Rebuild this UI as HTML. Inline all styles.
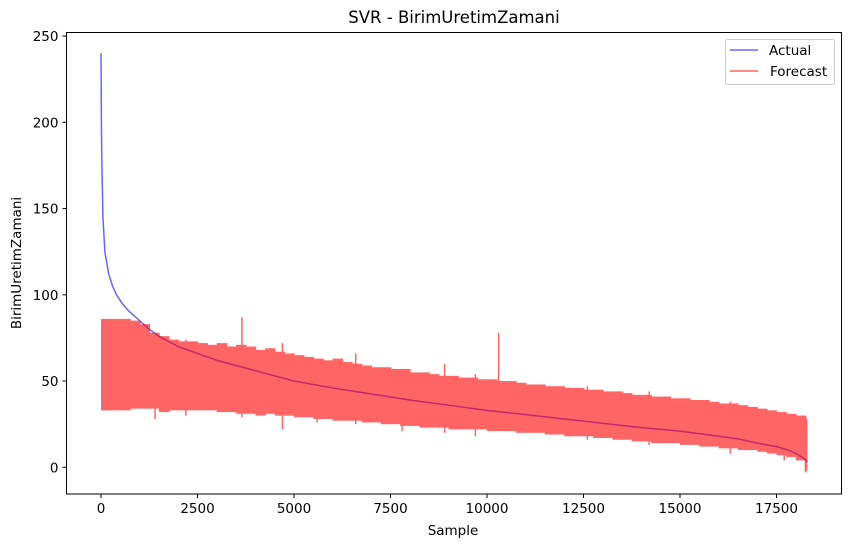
<!DOCTYPE html>
<html><head><meta charset="utf-8"><style>
body{margin:0;background:#fff;}
svg{font-family:"DejaVu Sans","Liberation Sans",sans-serif;}
</style></head><body>
<svg id="chart" width="850" height="547" viewBox="0 0 850 547">
<rect width="850" height="547" fill="#fff"/>
<text x="454" y="23" text-anchor="middle" font-size="16.5">SVR - BirimUretimZamani</text>
<g id="plot"></g>
<g id="axes"></g>
<text x="453" y="535" text-anchor="middle" font-size="13.5">Sample</text>
<text transform="translate(21,263) rotate(-90)" text-anchor="middle" font-size="13.5">BirimUretimZamani</text>
<g>
<rect x="725.5" y="39.5" width="109" height="45" rx="2" fill="#fff" fill-opacity="0.8" stroke="#ccc"/>
<line x1="730" y1="50" x2="758" y2="50" stroke="#6666ff" stroke-width="1.5"/>
<text x="769" y="55" font-size="13.5">Actual</text>
<line x1="730" y1="71" x2="758" y2="71" stroke="#ff6666" stroke-width="1.5"/>
<text x="770" y="76" font-size="13.5">Forecast</text>
</g>
</svg>
<script>
const actualSamples=[0,10,20,50,100,200,300,400,550,700,850,1000,1250,1500,1750,2000,2250,2500,3000,3500,4000,4500,5000,6000,7000,8000,9000,10000,11000,12000,13000,14000,15000,16000,16500,17000,17500,17800,18000,18150,18250,18300];
const actualValues=[240,200,180,145,125,112,105,100,95,91,88,85,80,76,73,70,68,66,62,59,56,53,50,46,42.5,39,36,33,30.5,28,25.5,23,21,18,16.5,14,12,10,8,6,4.5,3];
const binStart=0, binStep=250;
const forecastUpper=[86,86,86,85,83,78,76,74,73,73,72,71,72,70,71,70,68,69,67,66,65,64,63,62,63,61,60,59,58,58,57,57,55,55,54,53,53,52,52,51,51,50,50,49,48,48,47,47,46,46,45,45,44,44,43,42,42,41,41,40,40,39,39,38,37,37,36,35,34,33,32,31,30,28];
const forecastLower=[33,33,33,34,34,34,32,33,33,33,33,33,32,32,31,31,30,31,30,30,29,29,28,28,27,27,27,26,26,25,25,24,24,23,23,23,22,22,22,22,21,21,21,20,20,20,19,19,18,18,18,17,17,16,16,15,15,14,14,14,13,13,12,12,11,11,10,10,9,8,7,6,4,-2];
const spikeSamples=[30,1050,1400,3650,4700,6600,10300,8900,9700,2200,5600,7800,12600,14200,16300,17700,18250];
const spikeHigh=[80,82,75,87,72,66,78,60,54,74,62,57,47,44,38,31,30];
const spikeLow=[42,40,28,29,22,25,31,20,18,30,26,21,16,13,8,4,-3];
const xTicks=[0,2500,5000,7500,10000,12500,15000,17500];
const yTicks=[0,50,100,150,200,250];
const NS="http://www.w3.org/2000/svg";
const L=66.5,R=841.5,T=32.5,B=494;
const xs=v=>101+v*(96.5/2500);
const ys=v=>467.3-v*(431.3/250);
function mk(tag,attrs,parent){const e=document.createElementNS(NS,tag);for(const k in attrs)e.setAttribute(k,attrs[k]);parent.appendChild(e);return e;}
const plot=document.getElementById('plot'),axes=document.getElementById('axes');
let d=actualSamples.map((s,i)=>(i?'L':'M')+xs(s).toFixed(2)+','+ys(actualValues[i]).toFixed(2)).join('');
const al=mk('path',{d:d,fill:'none',stroke:'#0000ff','stroke-opacity':0.6,'stroke-width':1.5,'stroke-linejoin':'round'},plot);


const fg=mk('g',{opacity:0.6},plot);


const n=Math.min(forecastUpper.length,forecastLower.length);
const xEnd=xs(18300);
for(let i=0;i<n;i++){
  const x0=xs(binStart+i*binStep), x1=Math.min(xs(binStart+(i+1)*binStep)+0.8,xEnd);
  const r=mk('rect',{x:x0,y:ys(forecastUpper[i]),width:Math.max(0.8,x1-x0),height:ys(forecastLower[i])-ys(forecastUpper[i]),fill:'#ff0000'},fg);
  
  
}
for(let i=0;i<spikeSamples.length;i++){
  const l=mk('line',{x1:xs(spikeSamples[i]),x2:xs(spikeSamples[i]),y1:ys(spikeHigh[i]),y2:ys(spikeLow[i]),stroke:'#ff0000','stroke-width':1.5},fg);
  
  
}
const fr=mk('rect',{x:L,y:T,width:R-L,height:B-T,fill:'none',stroke:'#000','stroke-width':1},axes);


xTicks.forEach(t=>{
  const x=xs(t);
  const tk=mk('line',{x1:x,x2:x,y1:B,y2:B+4,stroke:'#000'},axes);
  
  
  const tx=mk('text',{x:x,y:B+19,'text-anchor':'middle','font-size':13.5},axes);
  tx.textContent=t;
  
  
});
yTicks.forEach(t=>{
  const y=ys(t);
  const tk=mk('line',{x1:L-4,x2:L,y1:y,y2:y,stroke:'#000'},axes);
  
  
  const tx=mk('text',{x:L-8,y:y+5,'text-anchor':'end','font-size':13.5},axes);
  tx.textContent=t;
  
  
});
</script>
</body></html>
